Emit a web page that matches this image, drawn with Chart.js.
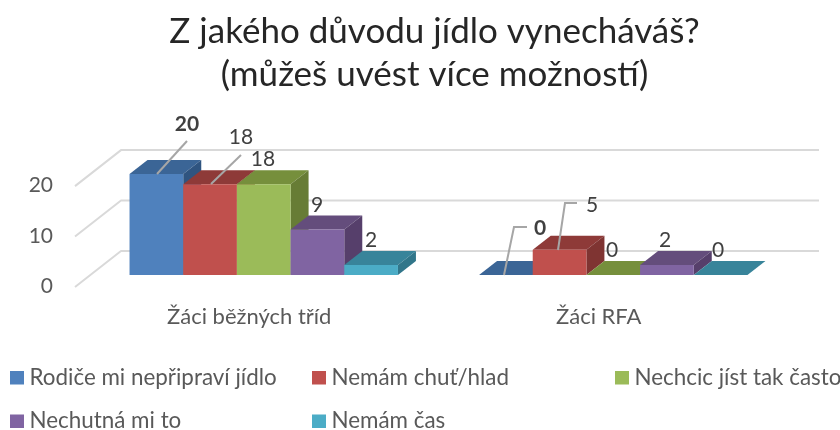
<!DOCTYPE html>
<html lang="cs"><head><meta charset="utf-8">
<style>html,body{margin:0;padding:0;background:#fff}#w{width:840px;height:430px;position:relative}</style>
<script src="https://cdn.jsdelivr.net/npm/chart.js@4"></script>
</head><body><div id="w"><canvas id="c" width="840" height="430"></canvas></div>
<script>
const categories = ['Žáci běžných tříd', 'Žáci RFA'];
const titleLines = ['Z jakého důvodu jídlo vynecháváš?', '(můžeš uvést více možností)'];
const seriesNames = ['Rodiče mi nepřipraví jídlo', 'Nemám chuť/hlad', 'Nechcic jíst tak často', 'Nechutná mi to', 'Nemám čas'];
const rodice = [20, 0];
const chut = [18, 5];
const nechci = [18, 0];
const nechutna = [9, 2];
const cas = [2, 0];
const seriesValues = [rodice, chut, nechci, nechutna, cas];
const tickValues = [0, 10, 20];

const frontColors = ['#4F81BD', '#C0504D', '#9BBB59', '#8064A2', '#4BACC6'];
const topColors = ['#3B6596', '#8E3A38', '#768F3C', '#644D7C', '#38849A'];
const sideColors = ['#2F5480', '#7F3432', '#677C35', '#563F6B', '#31768A'];
const FONT = 'Lato, Carlito, sans-serif';
const depth = {dx: 18, dy: 14};
const wall = {fx: -14, fy: 12, bx: 32, by: -24, right: 819};
// label placement, series -> category -> [centre x, centre y]
const labelPos = [
  [[187,124],[540,228]],
  [[241,137],[592,205]],
  [[263,159],[612,250]],
  [[317,205],[665,240]],
  [[371,240],[718,250]]
];
const boldSeries = 0;
const leaders = [
  [[[187,141],[157,174]], [[527,227],[514,227],[504,275]]],
  [[[241,155],[211,184]], [[577,203],[565,203],[558,250]]]
];
const legendCells = [[10,377.5],[312,377.5],[615,377.5],[10,421],[312,421]];

const plugin3d = {
  id: 'bars3d',
  beforeDatasetsDraw(chart) {
    const {ctx, scales: {y}} = chart;
    const area = chart.chartArea;
    ctx.save();
    ctx.strokeStyle = '#D9D9D9'; ctx.lineWidth = 2; ctx.lineJoin = 'round';
    y.ticks.forEach((t, i) => {
      const py = y.getPixelForTick(i);
      ctx.beginPath();
      ctx.moveTo(area.left + wall.fx, py + wall.fy);
      ctx.lineTo(area.left + wall.bx, py + wall.by);
      ctx.lineTo(wall.right, py + wall.by);
      ctx.stroke();
    });
    ctx.restore();
    chart.data.datasets.forEach((ds, i) => {
      const meta = chart.getDatasetMeta(i);
      meta.data.forEach(bar => {
        const p = bar.getProps(['x','y','base','width'], true);
        const l = p.x - p.width/2, r = p.x + p.width/2;
        ctx.fillStyle = topColors[i];
        ctx.beginPath();
        ctx.moveTo(l, p.y); ctx.lineTo(l+depth.dx, p.y-depth.dy); ctx.lineTo(r+depth.dx, p.y-depth.dy); ctx.lineTo(r, p.y);
        ctx.closePath(); ctx.fill();
        ctx.fillStyle = sideColors[i];
        ctx.beginPath();
        ctx.moveTo(r, p.y); ctx.lineTo(r+depth.dx, p.y-depth.dy); ctx.lineTo(r+depth.dx, p.base-depth.dy); ctx.lineTo(r, p.base);
        ctx.closePath(); ctx.fill();
      });
      meta.controller.draw();
    });
    return false;
  },
  afterDraw(chart) {
    const {ctx} = chart;
    ctx.save();
    ctx.textBaseline = 'middle';
    ctx.textAlign = 'center';
    // leaders
    ctx.strokeStyle = '#A6A6A6'; ctx.lineWidth = 2;
    leaders.forEach(s => s.forEach(line => {
      ctx.beginPath();
      line.forEach((pt, k) => k ? ctx.lineTo(pt[0], pt[1]) : ctx.moveTo(pt[0], pt[1]));
      ctx.stroke();
    }));
    // value labels
    chart.data.datasets.forEach((ds, i) => ds.data.forEach((v, j) => {
      ctx.fillStyle = '#404040';
      ctx.font = (i === boldSeries ? 'bold ' : '') + '21px ' + FONT;
      ctx.fillText(String(v), labelPos[i][j][0], labelPos[i][j][1]);
    }));
    // legend
    ctx.textAlign = 'left'; ctx.font = '22.4px ' + FONT;
    chart.data.datasets.forEach((ds, i) => {
      const [lx, ly] = legendCells[i];
      ctx.fillStyle = frontColors[i];
      ctx.fillRect(lx, ly - 6.5, 14, 13.5);
      ctx.fillStyle = '#595959';
      ctx.fillText(ds.label, lx + 19.5, ly);
    });
    ctx.restore();
  }
};

new Chart(document.getElementById('c'), {
  type: 'bar',
  plugins: [plugin3d],
  data: {
    labels: categories,
    datasets: seriesNames.map((n, i) => ({
      label: n, data: seriesValues[i], backgroundColor: frontColors[i],
      borderWidth: 0, categoryPercentage: 0.768, barPercentage: 1
    }))
  },
  options: {
    responsive: false, animation: false, events: [],
    layout: {padding: {left: 29, right: 0, top: 0, bottom: 95}},
    plugins: {
      legend: {display: false}, tooltip: {enabled: false},
      title: {display: true, text: titleLines, color: '#262626',
        font: {family: FONT, size: 35, weight: 'normal', lineHeight: 1.23},
        padding: {top: 10.5, bottom: 77.5}}
    },
    scales: {
      x: {grid: {display: false}, border: {display: false},
        ticks: {color: '#595959', font: {family: FONT, size: 22}, padding: 21, labelOffset: -14.5, maxRotation: 0, autoSkip: false},
        afterFit: s => { s.height = 60; }},
      y: {min: 0, max: 20, grid: {display: false}, border: {display: false},
        afterBuildTicks: s => { s.ticks = tickValues.map(v => ({value: v})); },
        afterFit: s => { s.width = 60; },
        ticks: {color: '#595959', font: {family: FONT, size: 21}, padding: 28, labelOffset: 11.5}},
      yRight: {position: 'right', min: 0, max: 20, grid: {display: false}, border: {display: false},
        ticks: {display: false}, afterFit: s => { s.width = 52; }}
    }
  }
});
</script></body></html>
